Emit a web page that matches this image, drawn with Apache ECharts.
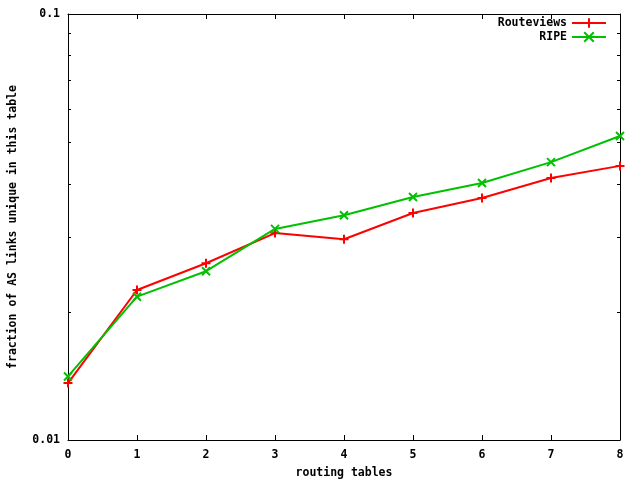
<!DOCTYPE html>
<html>
<head>
<meta charset="utf-8">
<script src="https://cdn.jsdelivr.net/npm/echarts@6/dist/echarts.min.js"></script>
<style>html,body{margin:0;padding:0;background:#fff}#c{width:640px;height:480px}</style>
</head>
<body>
<div id="c"></div>
<script>
var xValues = [0, 1, 2, 3, 4, 5, 6, 7, 8];
var routeviews = [0.0136, 0.0225, 0.0260, 0.0306, 0.0296, 0.0341, 0.0370, 0.0412, 0.0440];
var ripe = [0.0141, 0.0217, 0.0249, 0.0313, 0.0337, 0.0372, 0.0401, 0.0449, 0.0517];
var minorTickVals = [0.02, 0.03, 0.04, 0.05, 0.06, 0.07, 0.08, 0.09];
var seriesNames = ['Routeviews', 'RIPE'];
var xTitle = 'routing tables';
var yTitle = 'fraction of AS links unique in this table';

var FONT = 'DejaVu Sans Mono';
var plusPath = 'path://M5,0L5,10M0,5L10,5';
var crossPath = 'path://M0,0L10,10M10,0L0,10';

function pairs(vals) { return xValues.map(function (x, i) { return [x, vals[i]]; }); }

var chart = echarts.init(document.getElementById('c'), null, {renderer: 'canvas'});
var labelStyle = {fontFamily: FONT, fontWeight: 'bold', fontSize: 11.5, color: '#000'};

chart.setOption({
  animation: false,
  backgroundColor: '#fff',
  grid: {left: 68, right: 20, top: 14, bottom: 40, containLabel: false, outerBoundsMode: 'none'},
  legend: [
    {data: [seriesNames[0]], right: 33, top: 17, itemWidth: 34, itemHeight: 12, itemGap: 0,
     align: 'right', textStyle: labelStyle, padding: 0},
    {data: [seriesNames[1]], right: 33, top: 31, itemWidth: 34, itemHeight: 12, itemGap: 0,
     align: 'right', textStyle: labelStyle, padding: 0}
  ],
  xAxis: [
    {type: 'value', min: 0, max: 8, interval: 1, position: 'bottom',
     name: xTitle, nameLocation: 'middle', nameGap: 27, nameTextStyle: labelStyle,
     axisLine: {show: true, onZero: false, lineStyle: {color: '#000', width: 1}},
     axisTick: {show: true, inside: true, length: 5, lineStyle: {color: '#000'}},
     axisLabel: Object.assign({margin: 9}, labelStyle),
     splitLine: {show: false}},
    {type: 'value', min: 0, max: 8, interval: 1, position: 'top',
     axisLine: {show: true, onZero: false, lineStyle: {color: '#000', width: 1}},
     axisTick: {show: true, inside: true, length: 5, lineStyle: {color: '#000'}},
     axisLabel: {show: false}, splitLine: {show: false}}
  ],
  yAxis: [
    {type: 'log', logBase: 10, min: 0.01, max: 0.1, position: 'left',
     name: yTitle, nameLocation: 'middle', nameGap: 49, nameRotate: 90,
     nameTextStyle: labelStyle,
     axisLine: {show: true, onZero: false, lineStyle: {color: '#000', width: 1}},
     axisTick: {show: true, inside: true, length: 5, lineStyle: {color: '#000'}},
     axisLabel: Object.assign({margin: 8, formatter: function (v) { return String(+v.toPrecision(3)); }}, labelStyle),
     splitLine: {show: false}},
    {type: 'log', logBase: 10, min: 0.01, max: 0.1, position: 'right',
     axisLine: {show: true, onZero: false, lineStyle: {color: '#000', width: 1}},
     axisTick: {show: true, inside: true, length: 5, lineStyle: {color: '#000'}},
     axisLabel: {show: false}, splitLine: {show: false}}
  ],
  series: [
    {type: 'custom', silent: true, xAxisIndex: 0, yAxisIndex: 0,
     data: minorTickVals.map(function (v) { return [0, v]; }),
     renderItem: function (params, api) {
       var v = api.value(1);
       var l = api.coord([0, v]);
       var r = api.coord([8, v]);
       var y = Math.round(l[1]) + 0.5;
       return {type: 'group', children: [
         {type: 'line', shape: {x1: l[0], y1: y, x2: l[0] + 3, y2: y}, style: {stroke: '#000', lineWidth: 1}},
         {type: 'line', shape: {x1: r[0] - 3, y1: y, x2: r[0], y2: y}, style: {stroke: '#000', lineWidth: 1}}
       ]};
     }},
    {name: seriesNames[0], type: 'line', data: pairs(routeviews),
     symbol: plusPath, symbolSize: 9, showSymbol: true,
     lineStyle: {color: '#ff0000', width: 2},
     itemStyle: {color: '#ff0000', borderColor: '#ff0000', borderWidth: 2}},
    {name: seriesNames[1], type: 'line', data: pairs(ripe),
     symbol: crossPath, symbolSize: 8, showSymbol: true,
     lineStyle: {color: '#00c000', width: 2},
     itemStyle: {color: '#00c000', borderColor: '#00c000', borderWidth: 2}}
  ]
});
</script>
</body>
</html>
